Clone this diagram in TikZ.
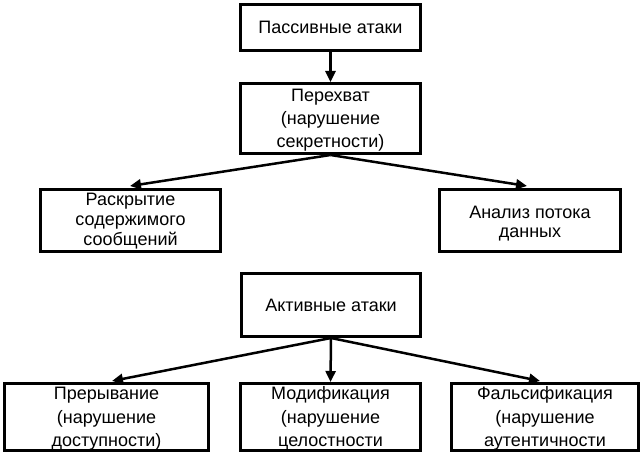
\documentclass[tikz,border=0pt]{standalone}
\usepackage{fontspec}
\usepackage{calc}
\setmainfont{Liberation Sans}
\usetikzlibrary{arrows.meta}
\newcommand\mtext[3]{\raisebox{0pt}[\height/2-\depth/2+#1][\depth/2-\height/2-#1]{\fontsize{18bp}{#2}\selectfont\begin{tabular}{@{}c@{}}#3\end{tabular}}}
\tikzset{
  box/.style={draw=black, line width=3bp, align=center, inner sep=0pt,
    font=\fontsize{18bp}{23bp}\selectfont},
  arr/.style={line width=2.5bp, -{Triangle[length=11bp,width=10bp]}}
}
\begin{document}
\begin{tikzpicture}[x=1bp,y=-1bp]
\useasboundingbox[fill=white] (0,0) rectangle (642,454);
\node[box, minimum width=180bp, minimum height=46bp] (pas) at (330.5,27.5) {Пассивные атаки};
\node[box, minimum width=180bp, minimum height=70bp] (int) at (330.5,118.5) {\mtext{8bp}{23bp}{Перехват\\(нарушение\\секретности)}};
\node[box, minimum width=180bp, minimum height=62bp] (dis) at (130.5,220.5) {\mtext{6.5bp}{20bp}{Раскрытие\\содержимого\\сообщений}};
\node[box, minimum width=181bp, minimum height=62bp] (ana) at (530,220.5) {\mtext{12bp}{18.5bp}{Анализ потока\\данных}};
\node[box, minimum width=179bp, minimum height=63bp] (act) at (331,305) {Активные атаки};
\node[box, minimum width=204bp, minimum height=67bp] (pre) at (106.5,417) {\mtext{7bp}{23.5bp}{Прерывание\\(нарушение\\доступности)}};
\node[box, minimum width=180bp, minimum height=67bp] (mod) at (330.5,417) {\mtext{7bp}{23.5bp}{Модификация\\(нарушение\\целостности}};
\node[box, minimum width=187bp, minimum height=67bp] (fal) at (545,417) {\mtext{7bp}{23.5bp}{Фальсификация\\(нарушение\\аутентичности}};
\coordinate (tdis) at (130,186);
\coordinate (tana) at (527,186);
\coordinate (tpre) at (112,381);
\coordinate (tfal) at (540,381);
\draw[arr] (pas.south) -- (int.north);
\draw[arr] (int.south) -- (tdis);
\draw[arr] (int.south) -- (tana);
\draw[arr] (act.south) -- (tpre);
\draw[arr] (act.south) -- (mod.north);
\draw[arr] (act.south) -- (tfal);
\end{tikzpicture}
\end{document}
